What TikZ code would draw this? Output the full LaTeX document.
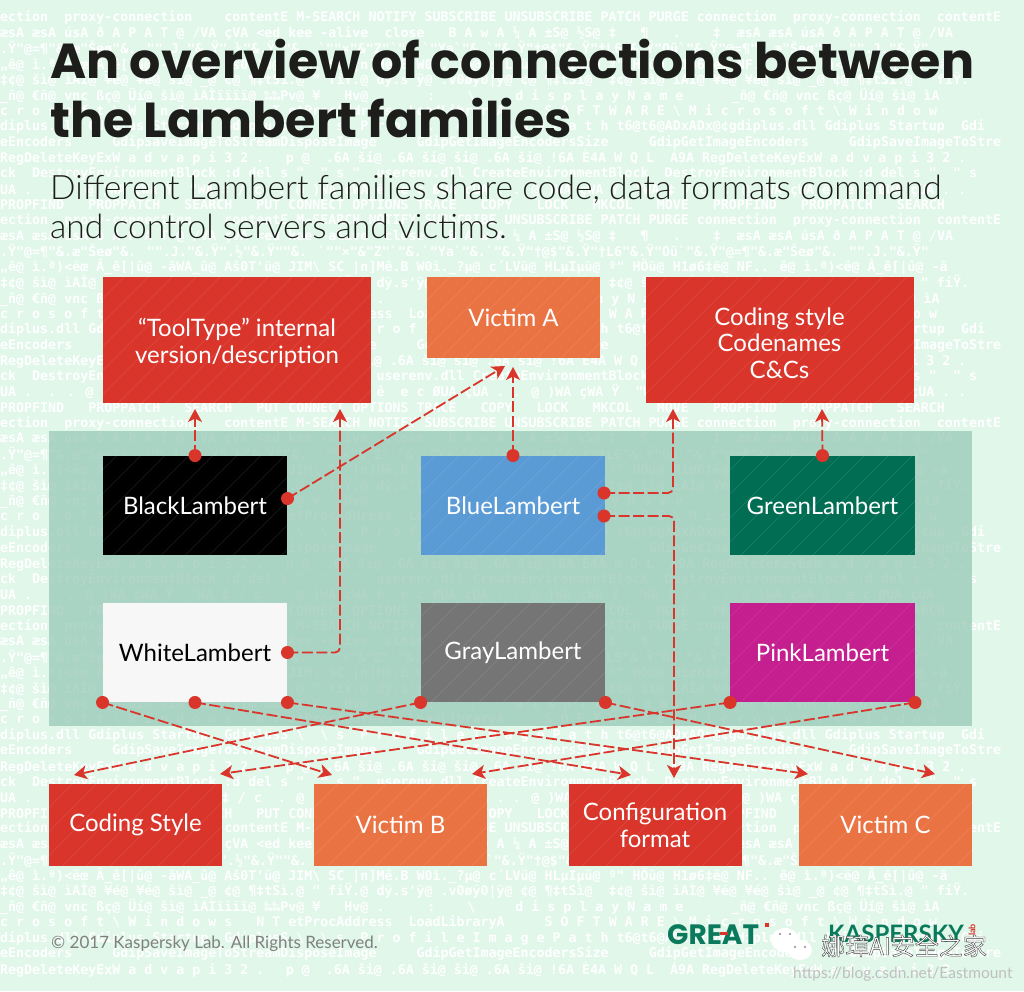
\documentclass[tikz,border=0pt]{standalone}
\usepackage{fontspec}
\setmainfont{Lato}
\newfontfamily\lightfont{Lato Light}
\newfontfamily\titlefont{Poppins}
\newfontfamily\bgfont{DejaVu Sans Mono}
\newfontfamily\cjkfont{Noto Sans CJK SC}
\usetikzlibrary{arrows.meta}

\definecolor{bgmint}{HTML}{E0F7EA}
\definecolor{panelgreen}{HTML}{97C8B5}
\definecolor{linkred}{HTML}{D9352B}
\definecolor{boxorange}{HTML}{EA7344}
\definecolor{boxblue}{HTML}{5B9BD5}
\definecolor{boxgreen}{HTML}{016E54}
\definecolor{boxgray}{HTML}{757575}
\definecolor{boxpink}{HTML}{C41E8F}
\definecolor{inkblack}{HTML}{1D1D1B}
\definecolor{logogreen}{HTML}{0B7A5C}

\obeyspaces
\newcommand{\bgrowi}{      PROPFIND   PROPPATCH   SEARCH   PUT CONNECT OPTIONS TRACE   COPY   LOCK   MKCOL   MOVE   PROPFIND   PROPPATCH   SEARCH}
\newcommand{\bgrowii}{ection  proxy-connection    contentE M-SEARCH NOTIFY SUBSCRIBE UNSUBSCRIBE PATCH PURGE connection  proxy-connection  contentE}
\newcommand{\bgrowiii}{    æsA æsA úsA ð A P A T @ /VA çVA <ed kee -alive  close   B A w A ¼ A ±S@ ½S@ ‡   ¶   .   ‡  æsA æsA úsA ð A P A T @ /VA}
\newcommand{\bgrowiv}{.Ÿ"@=¶"\&.æ"Šeø"\&. "".J."\&.Ÿ".½"\&.Ÿ""\&. `""×"\&"Z"`"\&.`"Ya`"\&.`"\&.Ÿ"†@\$"\&.Ÿ"†L6"\&.Ÿ"Oü`"\&.Ÿ"@=¶"\&.æ"Šeø"\&. "".J."\&.Ÿ"}
\newcommand{\bgrowv}{„ê@ ì.ª)<ëœ Â\_ê[|û@ -ãWA\_û@ Aš0T'ü@ JIM\textbackslash SC |n]Mê.B W0ì.\_?µ@ c´LVü@ HLµIµü@ º" HÖü@ H1ø6‡ë@ NF.. ê@ ì.ª)<ë@ Â\_ê[|û@ -ã}
\newcommand{\bgrowvi}{  ‡¢@ šì@ ìAÌ@ ¥é@ ¥é@ šì@ \_@ ¢@ ¶‡tSì.@ " fiŸ.@ dÿ.s'ÿ@ .v{0øÿ0|}ÿ@ ¢@ ¶‡tSì@  ‡¢@ šì@ ìAÌ@ ¥é@ ¥é@ šì@ \_@ ¢@ ¶‡tSì.@ " fiŸ.}
\newcommand{\bgrowvii}{             \_ñ@ €ñ@ vnc ßç@ Üí@ šì@ ìAÌïïïï@ ‰‰Pv@ ¥   Hv@ .    :   \textbackslash     d i s p l a y N a m e      \_ñ@ €ñ@ vnc ßç@ Üí@ šì@ ìA}
\newcommand{\bgrowviii}{c r o s o f t \textbackslash W i n d o w s   N T etProcAddress  LoadLibraryA     S O F T W A R E \textbackslash M i c r o s o f t \textbackslash W i n d o w}
\newcommand{\bgrowix}{diplus.dll Gdiplus Startup  GdiplusS \textbackslash  \textbackslash s  P r o f i l e I m a g e P a t h t6@t6@ADxADx@¢gdiplus.dll Gdiplus Startup  Gdi}
\newcommand{\bgrowx}{eEncoders     GdipSaveImageToStreamDisposeImage     GdipGetImageEncodersSize     GdipGetImageEncoders     GdipSaveImageToStre}
\newcommand{\bgrowxi}{ RegDeleteKeyExW a d v a p i 3 2 .  p @  .6A ši@ .6A ši@ ši@ .6A ši@ !6A È4A W Q L  Á9A RegDeleteKeyExW a d v a p i 3 2 .}
\newcommand{\bgrowxii}{ck  DestroyEnvironmentBlock :d del s "  " s "  userenv.dll CreateEnvironmentBlock  DestroyEnvironmentBlock :d del s "  " s}
\newcommand{\bgrowxiii}{UA .  . . @ )WA çWA Ÿ  "WA ‡ / c  . @ )WA çWA ê  e c ØUA çUA . . @ )WA çWA Ÿ  "WA ‡ / c  . @ )WA çWA ê  e c ØUA çUA . .}
\catcode`\ =10

\newcommand{\outlined}[1]{\special{pdf:code 2 Tr 0.4 w 0.25 G}#1\special{pdf:code 0 Tr}}

\tikzset{
    bgtext/.style={anchor=west, inner sep=0pt, text=white, font=\bgfont\bfseries\fontsize{13.3}{14}\selectfont},
    hatched/.style={path picture={
        \foreach \d in {-320,-296,...,320}
            \draw[white, opacity=.12, line width=.6pt] (path picture bounding box.center) ++(\d-160,160) -- ++(320,-320);
    }},
    familybox/.style={hatched, inner sep=0pt, align=center, text=white, minimum width=184.5pt, minimum height=99.5pt,
        font=\fontsize{24}{26.6}\selectfont},
    topbox/.style={familybox, minimum width=268pt, minimum height=126pt},
    lowbox/.style={familybox, minimum width=173pt, minimum height=82pt},
    dot/.style={circle, fill=linkred, inner sep=0pt, minimum size=13pt},
    link/.style={linkred, line width=1.8pt, dash pattern=on 11pt off 3.5pt, rounded corners=5pt,
        -{Stealth[inset=3.5pt, length=13pt, width=14pt]}},
}

\begin{document}
\begin{tikzpicture}[x=1pt, y=-1pt]
    \useasboundingbox (0,0) rectangle (1024,991);
    \fill[bgmint] (0,0) rectangle (1024,991);
    \foreach \n in {1,...,62} {
        \pgfmathtruncatemacro{\m}{mod(\n,13)+1}
        \node[bgtext] (row\n) at (0,{2+15.6*\n}) {\csname bgrow\romannumeral\m\endcsname};
    }

    % heading
    \node[anchor=base west, inner sep=0pt, text=inkblack, font=\titlefont\bfseries\fontsize{49.1}{49}\selectfont] (titleA) at (50,78) {An overview of connections between};
    \node[anchor=base west, inner sep=0pt, text=inkblack, font=\titlefont\bfseries\fontsize{49.1}{49}\selectfont] (titleB) at (50,137) {the Lambert families};
    \node[anchor=base west, inner sep=0pt, text=inkblack, font=\lightfont\fontsize{33.6}{33}\selectfont] (subA) at (50,199) {Different Lambert families share code, data formats command};
    \node[anchor=base west, inner sep=0pt, text=inkblack, font=\lightfont\fontsize{33.6}{33}\selectfont] (subB) at (50,238) {and control servers and victims.};

    \node[fill=panelgreen, fill opacity=.75, inner sep=0pt, minimum width=923pt, minimum height=295pt] (panel) at (510.5,578.5) {};

    % boxes above the families
    \node[topbox, fill=linkred] (tooltype) at (237,340) {\rule{0pt}{24pt}“ToolType” internal\\version/description};
    \node[lowbox, fill=boxorange, minimum height=81pt] (victimA) at (513.5,317.5) {Victim A};
    \node[topbox, fill=linkred] (codingtop) at (779.5,340) {\rule{0pt}{24pt}Coding style\\Codenames\\C\&Cs};

    % the families
    \node[familybox, fill=black] (black) at (195,505.5) {BlackLambert};
    \node[familybox, fill=boxblue] (blue) at (513,505.5) {BlueLambert};
    \node[familybox, fill=boxgreen] (green) at (822.5,505.5) {GreenLambert};
    \node[familybox, fill=white!97!black, text=black] (white) at (195,652.5) {WhiteLambert};
    \node[familybox, fill=boxgray] (gray) at (513,652.5) {GrayLambert};
    \node[familybox, fill=boxpink] (pink) at (822.5,652.5) {PinkLambert};

    % boxes below the families
    \node[lowbox, fill=linkred] (codingstyle) at (135.5,825) {Coding Style};
    \node[lowbox, fill=boxorange] (victimB) at (400.5,825) {Victim B};
    \node[lowbox, fill=linkred] (config) at (655,825) {Configuration\\format};
    \node[lowbox, fill=boxorange] (victimC) at (885.5,825) {Victim C};

    % connector ends
    \node[dot] (blackN) at (black.north) {};
    \node[dot] (blackE) at (287.5,498.5) {};
    \node[dot] (blueN) at (blue.north) {};
    \node[dot] (blueEa) at (604,493) {};
    \node[dot] (blueEb) at (604,516) {};
    \node[dot] (greenN) at (green.north) {};
    \node[dot] (whiteE) at (white.east) {};
    \node[dot] (whiteSW) at (white.south west) {};
    \node[dot] (whiteS) at (white.south) {};
    \node[dot] (whiteSE) at (white.south east) {};
    \node[dot] (graySW) at (gray.south west) {};
    \node[dot] (graySE) at (gray.south east) {};
    \node[dot] (pinkSW) at (pink.south west) {};
    \node[dot] (pinkSE) at (pink.south east) {};

    \coordinate (tipTool) at (195,409);
    \coordinate (tipWhite) at (340,409);
    \coordinate (tipVictimA) at (505,366);
    \coordinate (tipBlue) at (513,367);
    \coordinate (tipCoding) at (673,409);
    \coordinate (tipGreen) at (822,409);
    \coordinate (tipStyleA) at (74,775);
    \coordinate (tipStyleB) at (220,774);
    \coordinate (tipVictimB) at (332,775);
    \coordinate (tipVictimBb) at (472,774);
    \coordinate (tipConfigA) at (631,775);
    \coordinate (tipConfigB) at (674,778);
    \coordinate (tipVictimC) at (808,774);
    \coordinate (tipVictimCb) at (935,774);

    \draw[link] (blackN.center) -- (tipTool);
    \draw[link] (blackE.center) -- (tipVictimA);
    \draw[link] (whiteE.center) -| (tipWhite);
    \draw[link] (blueN.center) -- (tipBlue);
    \draw[link] (blueEa.center) -| (tipCoding);
    \draw[link] (blueEb.center) -| (tipConfigB);
    \draw[link] (greenN.center) -- (tipGreen);
    \draw[link] (whiteSW.center) -- (tipVictimB);
    \draw[link] (whiteS.center) -- (tipConfigA);
    \draw[link] (whiteSE.center) -- (tipVictimC);
    \draw[link] (graySW.center) -- (tipStyleA);
    \draw[link] (graySE.center) -- (tipVictimCb);
    \draw[link] (pinkSW.center) -- (tipStyleB);
    \draw[link] (pinkSE.center) -- (tipVictimBb);

    % footer
    \node[anchor=base west, inner sep=0pt, text=black!50, font=\fontsize{17}{17}\selectfont] (copyright) at (51,948) {© 2017 Kaspersky Lab. All Rights Reserved.};
    \node[anchor=base west, inner sep=0pt, text=logogreen, font=\titlefont\bfseries\fontsize{28}{28}\selectfont] (great) at (667,944) {GREAT};
    \fill[linkred] (765,923) rectangle (769,927);
    \fill[linkred] (720,932) rectangle (728,935);
    \node[anchor=base west, inner sep=0pt, text=logogreen, font=\bfseries\fontsize{24}{24}\selectfont] (kaspersky) at (828,942) {KASPERSKY};
    \node[anchor=center, rotate=90, inner sep=0pt, text=linkred, font=\bfseries\fontsize{9}{9}\selectfont] (lab) at (972,930) {lab};
    \fill[white] (785,940) ellipse (14pt and 12pt);
    \fill[white] (800,950) ellipse (12pt and 10pt);
    \foreach \ex/\ey in {780/934,790/934,795/947,805/947}
        \fill[black!45] (\ex,\ey) circle (1.2pt);
    \node[anchor=base west, inner sep=0pt, text=white, font=\cjkfont\fontsize{24}{24}\selectfont] (wechat) at (821,955) {\outlined{娜璋AI安全之家}};
    \node[anchor=base west, inner sep=0pt, text=black!25, font=\fontsize{15.5}{16}\selectfont] (url) at (793,978) {https://blog.csdn.net/Eastmount};
\end{tikzpicture}
\end{document}
